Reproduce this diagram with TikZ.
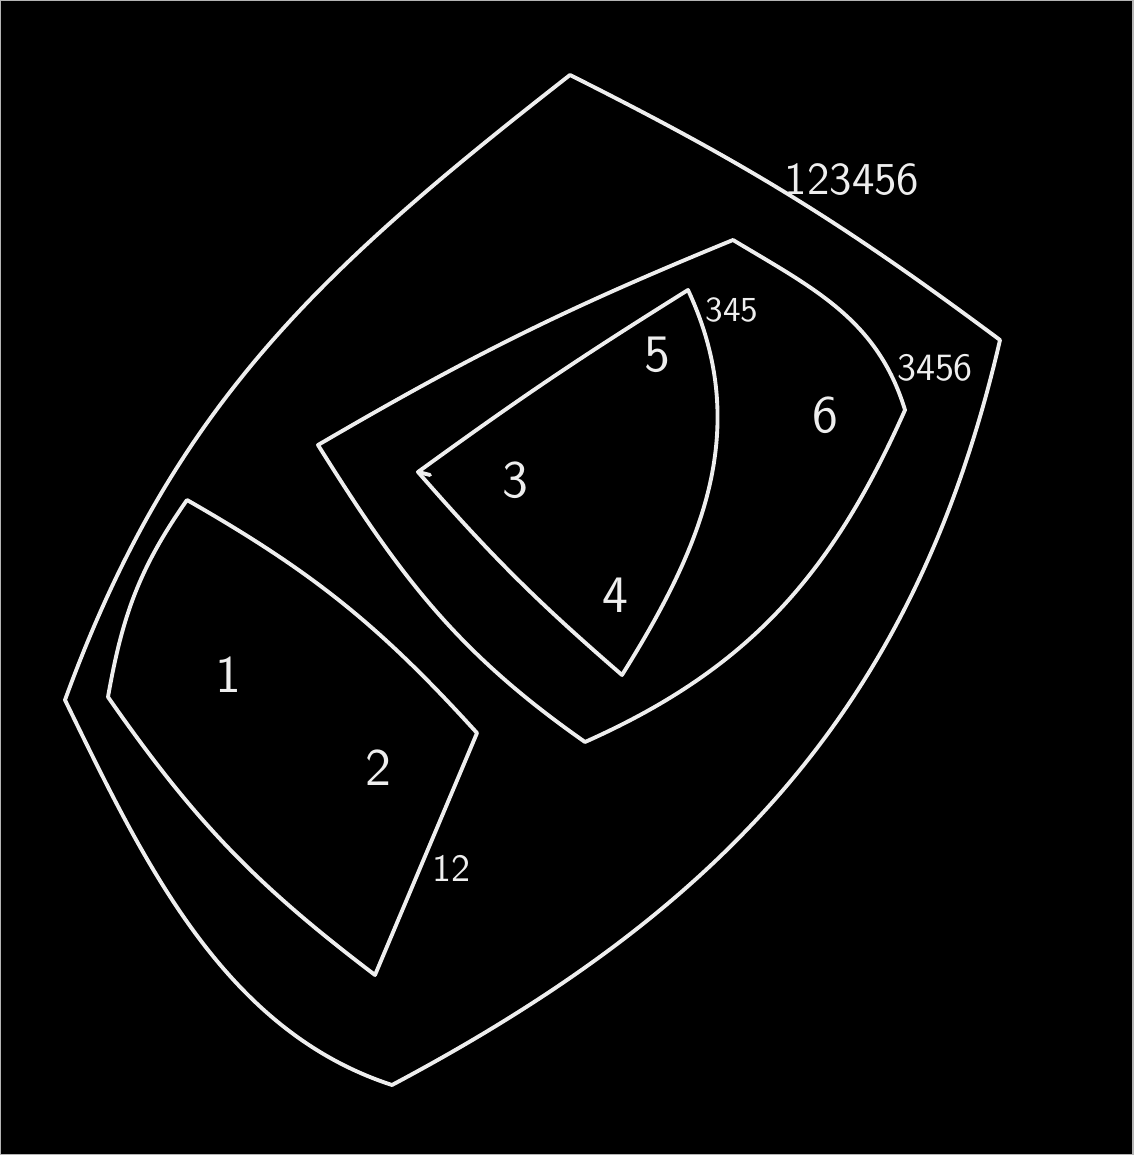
\documentclass[tikz,border=0pt]{standalone}
\usepackage{xcolor}
\usepackage{tikz}
\definecolor{VDBoard}{HTML}{000000}
\definecolor{VDChalk}{HTML}{EEEEEE}
\definecolor{VDFrame}{HTML}{B4B4B4}

\begin{document}
\begin{tikzpicture}[x=1cm,y=1cm,
  region/.style={draw=VDChalk,line width=1.1pt,line join=round,line cap=round},
  digit/.style={text=VDChalk,inner sep=0pt,font=\sffamily\fontsize{15}{18}\selectfont},
  setname/.style={text=VDChalk,inner sep=0pt,font=\sffamily\fontsize{#1}{#1}\selectfont}]
\path[use as bounding box] (0,0) rectangle (11.33,11.55);
\fill[VDBoard] (0,0) rectangle (11.33,11.55);
\draw[VDFrame,line width=.6pt] (0,0) rectangle (11.33,11.55);
% set 123456
\draw[region] (0.65,4.55) to[out=70,in=218] (5.70,10.80) to[bend left=5] (10.00,8.15)
  to[out=257,in=28] (3.92,0.70) to[out=162,in=296,looseness=.9] cycle;
% set 3456
\draw[region] (7.33,9.15) to[bend right=4] (3.18,7.10) to[out=302,in=145] (5.85,4.13)
  to[out=24,in=246] (9.05,7.45) to[out=107,in=329] cycle;
% set 345
\draw[region] (6.88,8.65) to[bend right=2] (4.18,6.83) to[bend right=4] (6.22,4.80)
  to[out=58,in=295] cycle;
\draw[region] (4.18,6.83) -- (4.30,6.80);
% set 12
\draw[region] (1.87,6.55) to[bend left=9] (4.77,4.22) -- (3.75,1.80)
  to[bend left=9] (1.08,4.58) to[out=80,in=235] cycle;
% set names
\node[setname=13] (n123456) at (8.52,9.75) {123456};
\node[setname=11] (n3456) at (9.35,7.87) {3456};
\node[setname=10] (n345) at (7.32,8.45) {345};
\node[setname=11] (n12) at (4.51,2.87) {12};
% elements
\node[digit] (e1) at (2.28,4.80) {1};
\node[digit] (e2) at (3.78,3.87) {2};
\node[digit] (e3) at (5.15,6.75) {3};
\node[digit] (e4) at (6.15,5.60) {4};
\node[digit] (e5) at (6.57,8.00) {5};
\node[digit] (e6) at (8.25,7.40) {6};
\end{tikzpicture}
\end{document}
